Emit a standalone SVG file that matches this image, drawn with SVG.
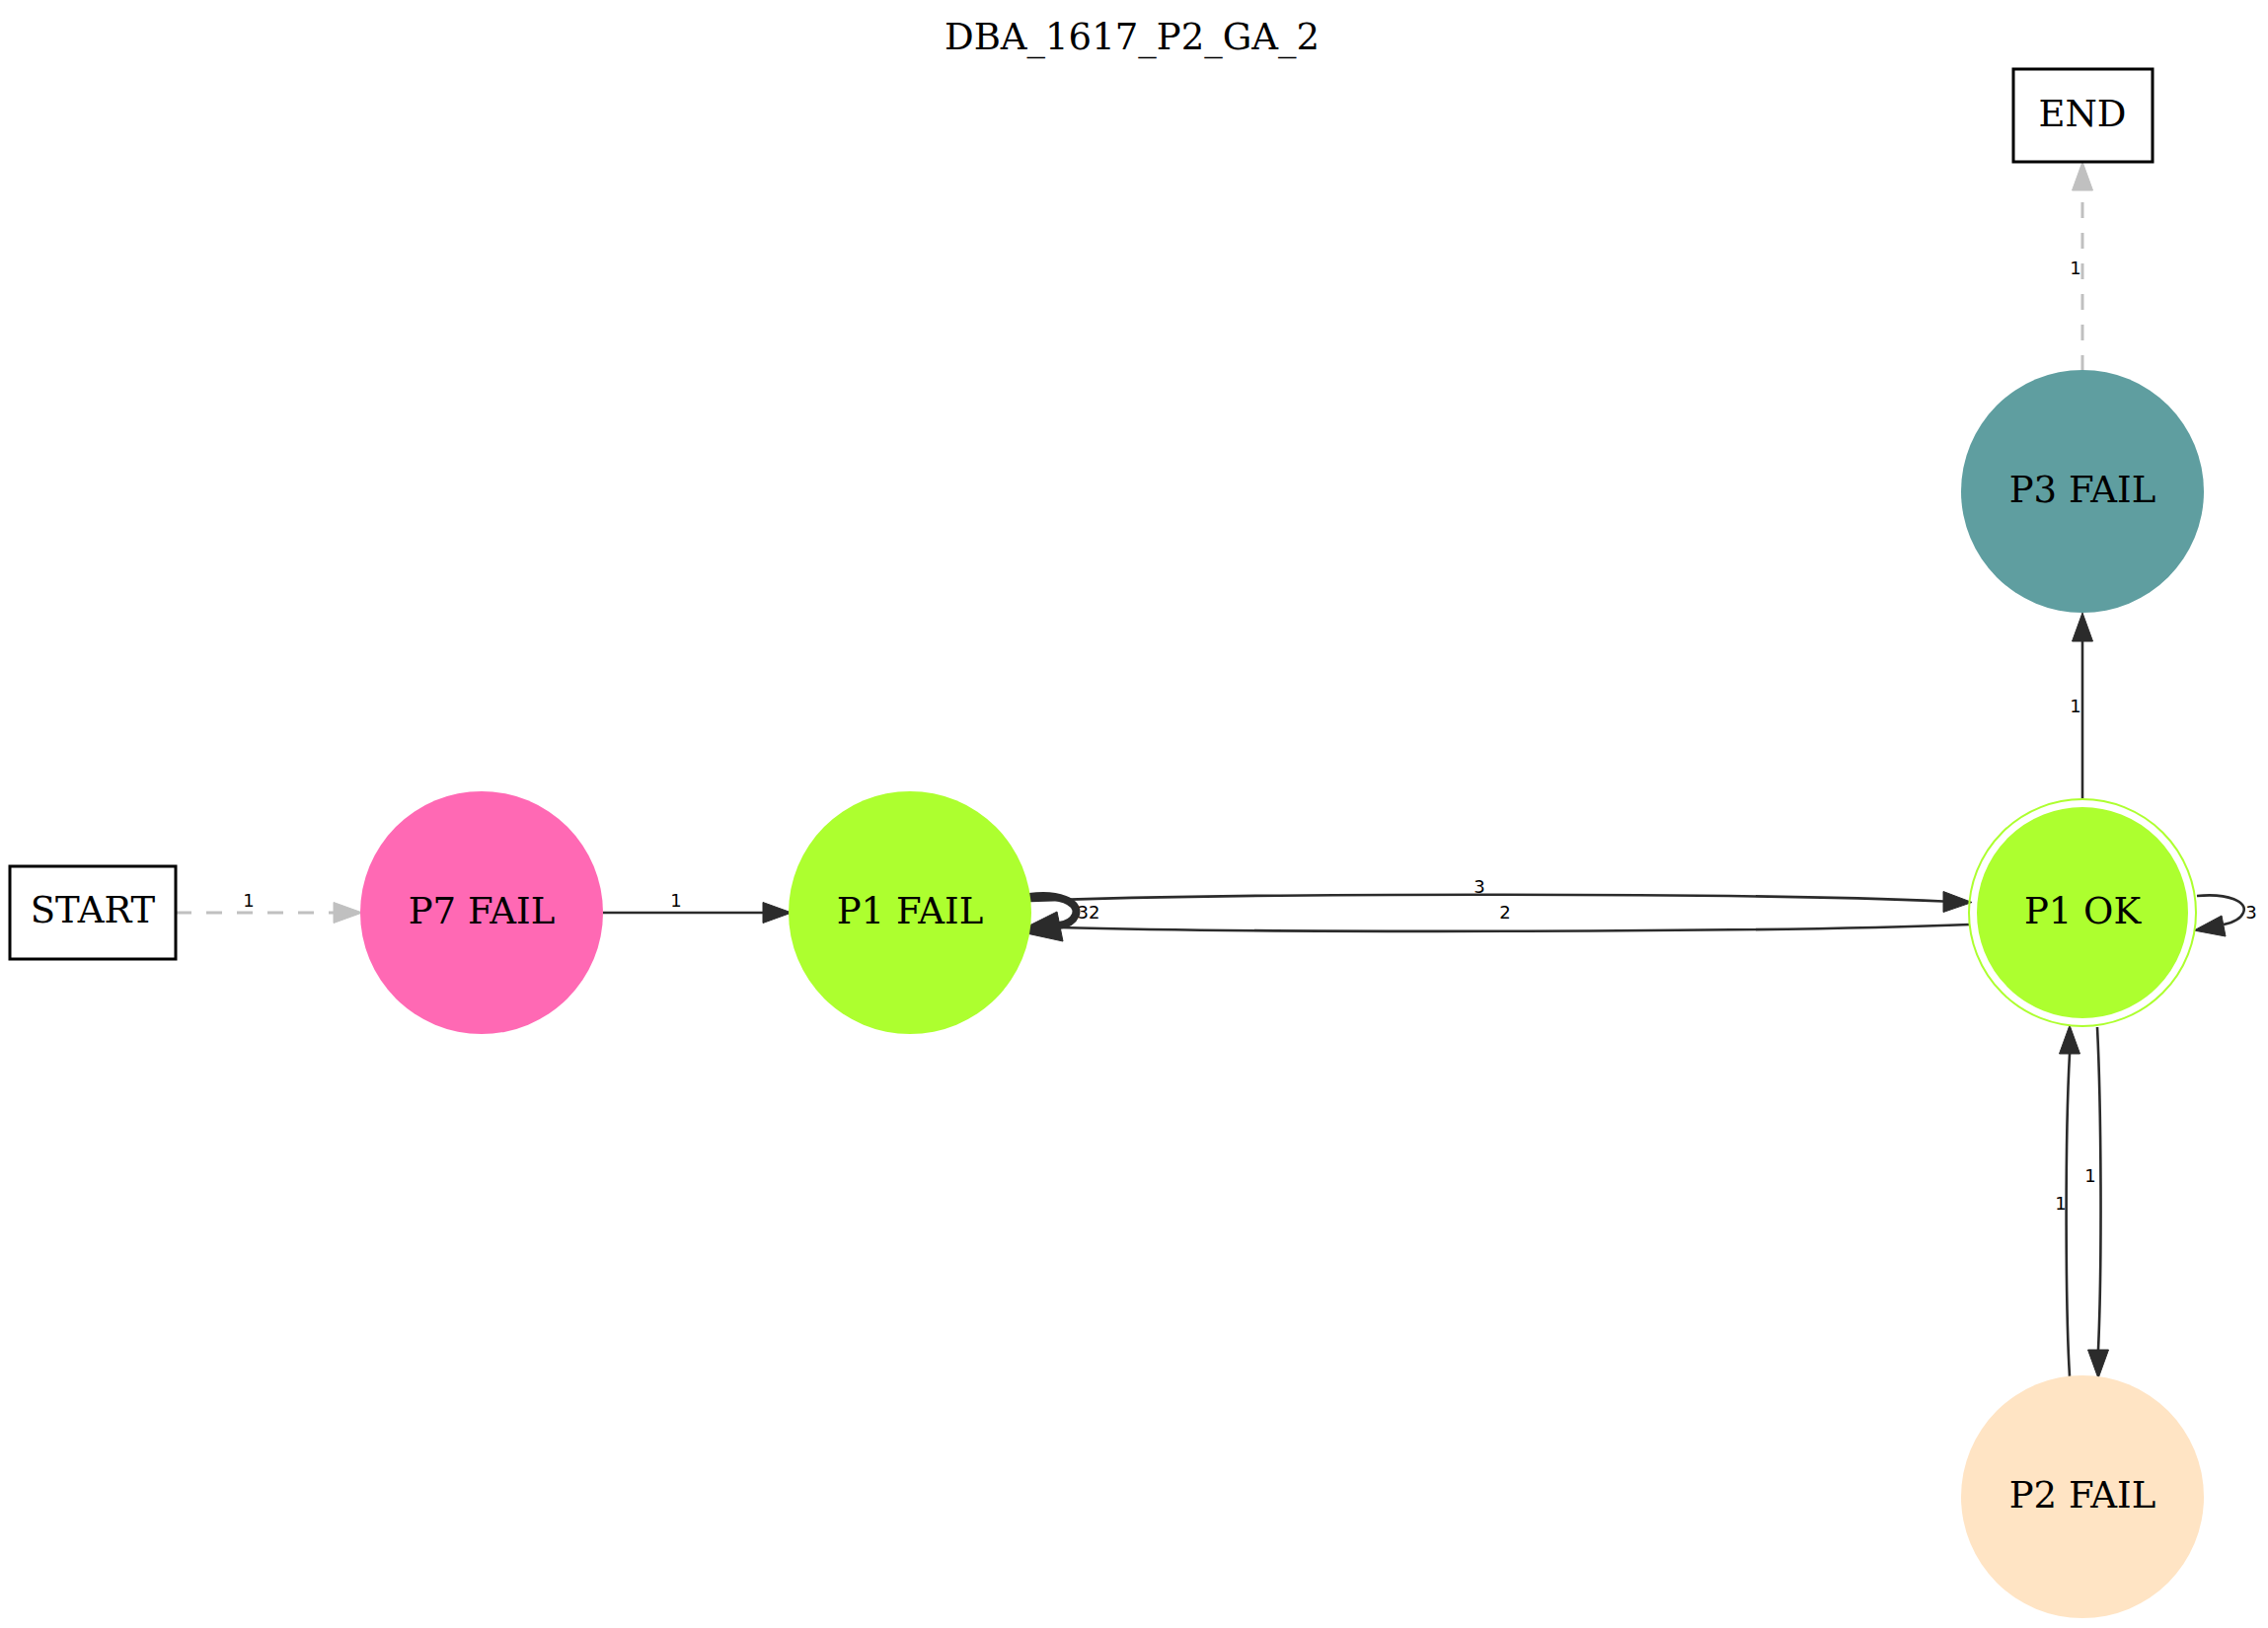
<svg xmlns="http://www.w3.org/2000/svg" width="2298" height="1650" viewBox="0 0 2298 1650">
<style>
.bg{fill:#ffffff}
.title{font-family:"DejaVu Serif",serif;font-size:37px;fill:#000;text-anchor:middle}
.nl{font-family:"DejaVu Serif",serif;font-size:37px;fill:#000;text-anchor:middle}
.el{font-family:"DejaVu Sans",sans-serif;font-size:18px;fill:#000;text-anchor:middle}
.box{fill:#fff;stroke:#000;stroke-width:3}
.e{fill:none;stroke:#2b2b2b;stroke-width:2.6}
.ed{fill:none;stroke:#c0c0c0;stroke-width:3;stroke-dasharray:16,15}
.ah{fill:#2b2b2b;stroke:#2b2b2b;stroke-width:1}
.ahg{fill:#c0c0c0;stroke:#c0c0c0;stroke-width:1}
</style>
<rect class="bg" x="0" y="0" width="2298" height="1650"/>
<text class="title" x="1147" y="50">DBA_1617_P2_GA_2</text>

<g id="edges">
  <!-- START -> P7 FAIL -->
  <g id="e_start_p7">
    <line class="ed" x1="178" y1="925" x2="338" y2="925"/>
    <polygon class="ahg" points="367,925 338,914.5 338,935.5"/>
    <text class="el" x="252" y="919">1</text>
  </g>
  <!-- P7 FAIL -> P1 FAIL -->
  <g id="e_p7_p1fail">
    <line class="e" x1="611" y1="925" x2="773" y2="925"/>
    <polygon class="ah" points="802,925 773,914.5 773,935.5"/>
    <text class="el" x="685" y="919">1</text>
  </g>
  <!-- P1 FAIL -> P1 OK -->
  <g id="e_p1fail_p1ok">
    <path class="e" d="M1044,913 C1250,905 1750,904 1969,913.5"/>
    <polygon class="ah" points="1998,914.5 1969,903.5 1969,924.5"/>
    <text class="el" x="1499" y="905">3</text>
  </g>
  <!-- P1 OK -> P1 FAIL -->
  <g id="e_p1ok_p1fail">
    <path class="e" d="M1996,937 C1800,945 1300,946 1072,940"/>
    <polygon class="ah" points="1044,941 1072,930 1072,950"/>
    <text class="el" x="1525" y="931">2</text>
  </g>
  <!-- P1 FAIL self-loop -->
  <g id="e_p1fail_loop">
    <path fill="none" stroke="#2b2b2b" stroke-width="8" d="M1043,909 C1072,905 1094,914 1090,927 C1087,934 1081,937 1073,938"/>
    <polygon class="ah" points="1031,944 1071,924 1077,954"/>
    <text class="el" x="1103" y="931">32</text>
  </g>
  <!-- P1 OK self-loop -->
  <g id="e_p1ok_loop">
    <path class="e" d="M2226,908 C2258,905 2278,914 2273,925 C2270,932 2263,935 2253,937"/>
    <polygon class="ah" points="2223,943 2251,928 2255,949"/>
    <text class="el" x="2281" y="931">3</text>
  </g>
  <!-- P1 OK -> P3 FAIL -->
  <g id="e_p1ok_p3">
    <line class="e" x1="2110" y1="811" x2="2110" y2="650"/>
    <polygon class="ah" points="2110,621 2099.5,650 2120.5,650"/>
    <text class="el" x="2103" y="722">1</text>
  </g>
  <!-- P3 FAIL -> END -->
  <g id="e_p3_end">
    <line class="ed" x1="2110" y1="376" x2="2110" y2="193"/>
    <polygon class="ahg" points="2110,164 2099.5,193 2120.5,193"/>
    <text class="el" x="2103" y="278">1</text>
  </g>
  <!-- P2 FAIL -> P1 OK -->
  <g id="e_p2_p1ok">
    <path class="e" d="M2097,1395 C2093,1330 2092,1160 2097,1068"/>
    <polygon class="ah" points="2097,1039 2086.5,1068 2107.5,1068"/>
    <text class="el" x="2088" y="1226">1</text>
  </g>
  <!-- P1 OK -> P2 FAIL -->
  <g id="e_p1ok_p2">
    <path class="e" d="M2125,1041 C2129,1120 2130,1280 2126,1368"/>
    <polygon class="ah" points="2126,1397 2115.5,1368 2136.5,1368"/>
    <text class="el" x="2118" y="1198">1</text>
  </g>
</g>

<g id="n_start">
  <rect class="box" x="10" y="878" width="168" height="94"/>
  <text class="nl" x="94" y="935">START</text>
</g>
<g id="n_p7fail">
  <circle cx="488" cy="925" r="123" fill="#ff69b4"/>
  <text class="nl" x="488" y="936">P7 FAIL</text>
</g>
<g id="n_p1fail">
  <circle cx="922" cy="925" r="123" fill="#adff2f"/>
  <text class="nl" x="922" y="936">P1 FAIL</text>
</g>
<g id="n_p1ok">
  <circle cx="2110" cy="925" r="115" fill="none" stroke="#adff2f" stroke-width="2"/>
  <circle cx="2110" cy="925" r="106" fill="#adff2f" stroke="#adff2f" stroke-width="2"/>
  <text class="nl" x="2110" y="936">P1 OK</text>
</g>
<g id="n_p3fail">
  <circle cx="2110" cy="498" r="123" fill="#5f9ea0"/>
  <text class="nl" x="2110" y="509">P3 FAIL</text>
</g>
<g id="n_end">
  <rect class="box" x="2040" y="70" width="141" height="94"/>
  <text class="nl" x="2110" y="128">END</text>
</g>
<g id="n_p2fail">
  <circle cx="2110" cy="1517" r="123" fill="#ffe4c4"/>
  <text class="nl" x="2110" y="1528">P2 FAIL</text>
</g>
</svg>
